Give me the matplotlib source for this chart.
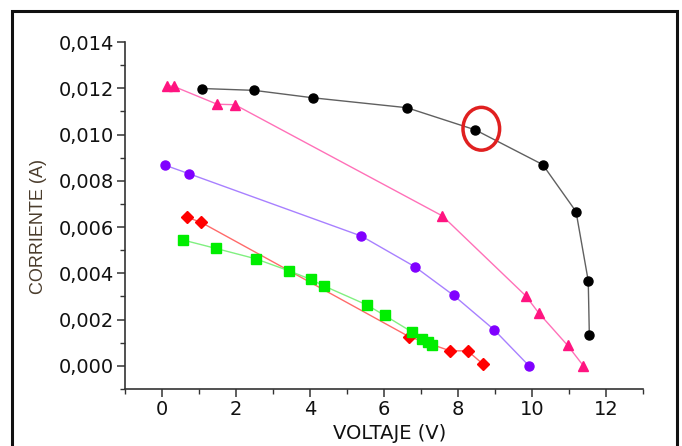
import matplotlib
matplotlib.use("Agg")
import matplotlib.pyplot as plt
from matplotlib.patches import Ellipse, Rectangle
from matplotlib.ticker import MultipleLocator, FuncFormatter

# ----------------------------------------------------------------------
# I-V curves (voltage in V, current in A)
V_BLACK = [1.09, 2.49, 4.07, 6.62, 8.47, 10.29, 11.19, 11.52, 11.55]
I_BLACK = [0.01199, 0.01191, 0.01159, 0.01116, 0.01020, 0.00870, 0.00667, 0.00368, 0.00133]

V_PINK = [0.14, 0.32, 1.49, 1.97, 7.58, 9.83, 10.18, 10.96, 11.39]
I_PINK = [0.01212, 0.01208, 0.01131, 0.01129, 0.00648, 0.00303, 0.00229, 0.00089, 0.00000]

V_PURPLE = [0.09, 0.74, 5.39, 6.83, 7.88, 8.97, 9.92]
I_PURPLE = [0.00867, 0.00830, 0.00561, 0.00429, 0.00305, 0.00157, 0.00000]

V_RED = [0.68, 1.05, 6.68, 7.79, 8.26, 8.68]
I_RED = [0.00642, 0.00621, 0.00126, 0.00065, 0.00065, 0.00007]

V_GREEN = [0.57, 1.45, 2.53, 3.43, 4.02, 4.37, 5.53, 6.02, 6.75, 7.02, 7.19, 7.29]
I_GREEN = [0.00544, 0.00508, 0.00463, 0.00411, 0.00374, 0.00346,
           0.00264, 0.00218, 0.00147, 0.00118, 0.00104, 0.00091]

# highlighted point (red ring)
MARK_V, MARK_I = 8.63, 0.01025

SERIES = [
    (V_BLACK, I_BLACK, '#606060', 'black', 'o', 6.5),
    (V_PINK, I_PINK, '#ff70b8', '#ff1480', '^', 7.5),
    (V_PURPLE, I_PURPLE, '#a880ff', '#8000ff', 'o', 6.5),
    (V_RED, I_RED, '#ff6a6a', '#ff0000', 'D', 6.3),
    (V_GREEN, I_GREEN, '#80f080', '#00ee00', 's', 6.5),
]

# ----------------------------------------------------------------------
fig = plt.figure(figsize=(6.82, 4.46), dpi=100)
ax = fig.add_axes([0.1833, 0.1278, 0.7595, 0.778])

for v, i, lc, mc, mk, ms in SERIES:
    ax.plot(v, i, color=lc, lw=1.0, zorder=2)
    ax.plot(v, i, ls='none', marker=mk, ms=ms, color=mc, mec=mc, zorder=3)

ax.add_patch(Ellipse((MARK_V, MARK_I), 0.99, 0.00185, fill=False,
                     edgecolor='#e02020', lw=2.5, zorder=4))

ax.set_xlim(-1, 13)
ax.set_ylim(-0.001, 0.014)
ax.xaxis.set_minor_locator(MultipleLocator(1))
ax.yaxis.set_minor_locator(MultipleLocator(0.001))
ax.yaxis.set_major_formatter(FuncFormatter(lambda y, _: f"{y:.3f}".replace('.', ',').replace('-', '')))
ax.set_xticks([0, 2, 4, 6, 8, 10, 12])
ax.set_yticks([0, 0.002, 0.004, 0.006, 0.008, 0.010, 0.012, 0.014])

for s in ('top', 'right'):
    ax.spines[s].set_visible(False)
for s in ('left', 'bottom'):
    ax.spines[s].set_color('#333333')
    ax.spines[s].set_linewidth(1.2)

ax.tick_params(which='major', direction='out', length=6, width=1.1,
               labelsize=14, pad=2, colors='#333333', labelcolor='#111111')
ax.tick_params(which='minor', direction='out', length=3.5, width=1.0, colors='#333333')

ax.set_xlabel("VOLTAJE (V)", fontsize=14, color='#111111')
ax.set_ylabel("CORRIENTE (A)", fontsize=13, color='#4a3c2c', family='Liberation Sans')
ax.yaxis.set_label_coords(-0.15, 0.467)
ax.xaxis.set_label_coords(0.51, -0.10)

# outer frame (bottom cut off by the picture edge)
fig.patches.append(Rectangle((12 / 682, -0.05), (677 - 12) / 682, 1.05 - 11 / 446,
                             transform=fig.transFigure, fill=False,
                             edgecolor='#111111', lw=2.2))

fig.savefig("out.png", dpi=100)
